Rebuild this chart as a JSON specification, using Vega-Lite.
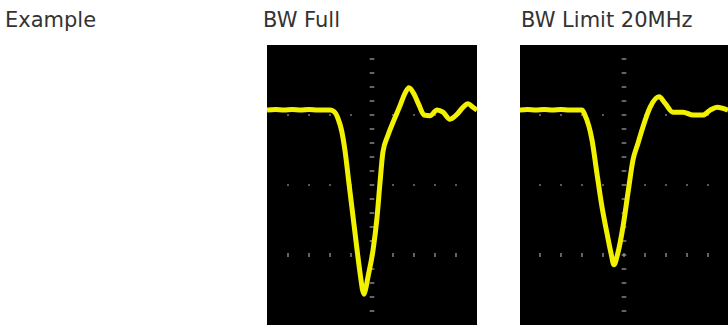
{
  "$schema": "https://vega.github.io/schema/vega-lite/v6.json",
  "padding": {"left": 0, "top": 10, "right": 0, "bottom": 0},
  "background": "white",
  "spacing": 43,
  "bounds": "flush",
  "config": {
    "view": {"stroke": null},
    "title": {"font": "DejaVu Sans", "fontSize": 21, "fontWeight": "normal", "color": "#333333", "anchor": "start", "offset": 14, "baseline": "alphabetic", "frame": "group"}
  },
  "datasets": {
    "full": [
      {"t": -5.0, "v": 1.07}, {"t": -4.6, "v": 1.08}, {"t": -4.2, "v": 1.07}, {"t": -3.8, "v": 1.08}, {"t": -3.4, "v": 1.07},
      {"t": -3.0, "v": 1.08}, {"t": -2.6, "v": 1.07}, {"t": -2.2, "v": 1.07}, {"t": -2.0, "v": 1.07}, {"t": -1.81, "v": 1.05},
      {"t": -1.62, "v": 0.95}, {"t": -1.45, "v": 0.78}, {"t": -1.29, "v": 0.5}, {"t": -1.1, "v": 0.03}, {"t": -0.9, "v": -0.46},
      {"t": -0.71, "v": -0.93}, {"t": -0.55, "v": -1.3}, {"t": -0.45, "v": -1.5}, {"t": -0.38, "v": -1.56}, {"t": -0.3, "v": -1.48},
      {"t": -0.19, "v": -1.31}, {"t": 0.05, "v": -0.93}, {"t": 0.24, "v": -0.46}, {"t": 0.38, "v": 0.03}, {"t": 0.52, "v": 0.47},
      {"t": 0.76, "v": 0.71}, {"t": 1.05, "v": 0.93}, {"t": 1.33, "v": 1.13}, {"t": 1.57, "v": 1.31}, {"t": 1.76, "v": 1.39},
      {"t": 2.0, "v": 1.3}, {"t": 2.24, "v": 1.14}, {"t": 2.48, "v": 1.0}, {"t": 2.76, "v": 0.99}, {"t": 3.1, "v": 1.07},
      {"t": 3.38, "v": 1.04}, {"t": 3.71, "v": 0.94}, {"t": 4.05, "v": 1.01}, {"t": 4.33, "v": 1.11}, {"t": 4.57, "v": 1.16},
      {"t": 4.81, "v": 1.11}, {"t": 5.0, "v": 1.07}
    ],
    "limit": [
      {"t": -5.0, "v": 1.07}, {"t": -4.6, "v": 1.08}, {"t": -4.2, "v": 1.07}, {"t": -3.8, "v": 1.08}, {"t": -3.4, "v": 1.07},
      {"t": -3.0, "v": 1.08}, {"t": -2.6, "v": 1.07}, {"t": -2.2, "v": 1.07}, {"t": -2.0, "v": 1.07}, {"t": -1.86, "v": 1.0},
      {"t": -1.52, "v": 0.64}, {"t": -1.29, "v": 0.17}, {"t": -1.05, "v": -0.31}, {"t": -0.81, "v": -0.69}, {"t": -0.6, "v": -1.0},
      {"t": -0.48, "v": -1.14}, {"t": -0.29, "v": -0.97}, {"t": -0.05, "v": -0.6}, {"t": 0.19, "v": -0.11}, {"t": 0.43, "v": 0.36},
      {"t": 0.67, "v": 0.6}, {"t": 0.9, "v": 0.83}, {"t": 1.24, "v": 1.11}, {"t": 1.67, "v": 1.26}, {"t": 1.95, "v": 1.17},
      {"t": 2.33, "v": 1.04}, {"t": 2.81, "v": 1.04}, {"t": 3.29, "v": 1.0}, {"t": 3.76, "v": 1.0}, {"t": 4.1, "v": 1.07},
      {"t": 4.43, "v": 1.11}, {"t": 4.95, "v": 1.07}
    ],
    "axisTicks": [
      {"t": 0, "v": -1.8}, {"t": 0, "v": -1.6}, {"t": 0, "v": -1.4}, {"t": 0, "v": -1.2}, {"t": 0, "v": -1.0}, {"t": 0, "v": -0.8}, {"t": 0, "v": -0.6}, {"t": 0, "v": -0.4}, {"t": 0, "v": -0.2}, {"t": 0, "v": 0.0},
      {"t": 0, "v": 0.2}, {"t": 0, "v": 0.4}, {"t": 0, "v": 0.6}, {"t": 0, "v": 0.8}, {"t": 0, "v": 1.0}, {"t": 0, "v": 1.2}, {"t": 0, "v": 1.4}, {"t": 0, "v": 1.6}, {"t": 0, "v": 1.8}
    ],
    "dots": [
      {"t": -4, "v": 0}, {"t": -3, "v": 0}, {"t": -2, "v": 0}, {"t": -1, "v": 0}, {"t": 1, "v": 0}, {"t": 2, "v": 0}, {"t": 3, "v": 0}, {"t": 4, "v": 0},
      {"t": -4, "v": 1}, {"t": -3, "v": 1}, {"t": -2, "v": 1}, {"t": -1, "v": 1}, {"t": 1, "v": 1}, {"t": 2, "v": 1}, {"t": 3, "v": 1}, {"t": 4, "v": 1}
    ],
    "dashes": [
      {"t": -4, "v": -1}, {"t": -3, "v": -1}, {"t": -2, "v": -1}, {"t": -1, "v": -1}, {"t": 0, "v": -1}, {"t": 1, "v": -1}, {"t": 2, "v": -1}, {"t": 3, "v": -1}, {"t": 4, "v": -1}
    ],
    "empty": [{"t": 0, "v": 0}]
  },
  "hconcat": [
    {
      "width": 224, "height": 280,
      "title": {"text": "Example", "dx": 5},
      "data": {"name": "empty"},
      "mark": {"type": "point", "opacity": 0},
      "encoding": {
        "x": {"field": "t", "type": "quantitative", "axis": null},
        "y": {"field": "v", "type": "quantitative", "axis": null}
      }
    },
    {
      "width": 210, "height": 280,
      "title": {"text": "BW Full", "dx": -4},
      "view": {"fill": "#000000", "stroke": null},
      "encoding": {
        "x": {"field": "t", "type": "quantitative", "axis": null, "scale": {"domain": [-5, 5], "nice": false, "zero": false}},
        "y": {"field": "v", "type": "quantitative", "axis": null, "scale": {"domain": [-2, 2], "nice": false, "zero": false}}
      },
      "layer": [
        {"data": {"name": "axisTicks"}, "mark": {"type": "point", "shape": "M-1,0L1,0", "filled": false, "size": 22, "strokeWidth": 1.3, "color": "#9a9a9a", "opacity": 1}},
        {"data": {"name": "dots"}, "mark": {"type": "square", "size": 3, "color": "#8a8a8a", "opacity": 1}},
        {"data": {"name": "dashes"}, "mark": {"type": "point", "shape": "M0,-1L0,1", "filled": false, "size": 18, "strokeWidth": 1.3, "color": "#9a9a9a", "opacity": 1}},
        {"data": {"name": "full"}, "mark": {"type": "line", "color": "#f2f200", "strokeWidth": 5, "interpolate": "monotone", "clip": true}}
      ]
    },
    {
      "width": 208, "height": 280,
      "title": {"text": "BW Limit 20MHz", "dx": 1},
      "view": {"fill": "#000000", "stroke": null},
      "encoding": {
        "x": {"field": "t", "type": "quantitative", "axis": null, "scale": {"domain": [-4.95, 4.95], "nice": false, "zero": false}},
        "y": {"field": "v", "type": "quantitative", "axis": null, "scale": {"domain": [-2, 2], "nice": false, "zero": false}}
      },
      "layer": [
        {"data": {"name": "axisTicks"}, "mark": {"type": "point", "shape": "M-1,0L1,0", "filled": false, "size": 22, "strokeWidth": 1.3, "color": "#9a9a9a", "opacity": 1}},
        {"data": {"name": "dots"}, "mark": {"type": "square", "size": 3, "color": "#8a8a8a", "opacity": 1}},
        {"data": {"name": "dashes"}, "mark": {"type": "point", "shape": "M0,-1L0,1", "filled": false, "size": 18, "strokeWidth": 1.3, "color": "#9a9a9a", "opacity": 1}},
        {"data": {"name": "limit"}, "mark": {"type": "line", "color": "#f2f200", "strokeWidth": 5, "interpolate": "monotone", "clip": true}}
      ]
    }
  ]
}
